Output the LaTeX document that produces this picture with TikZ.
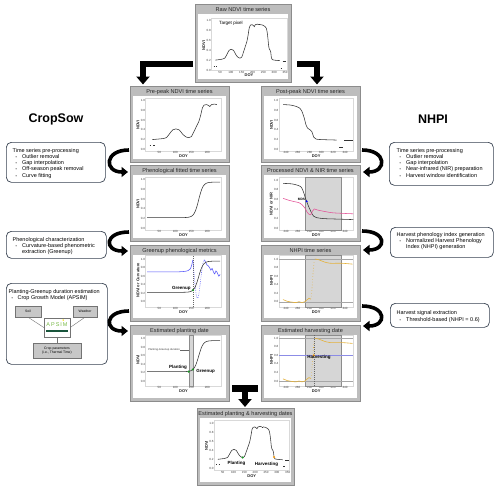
\documentclass[tikz,border=0pt]{standalone}
\usepackage{fontspec}
\setmainfont{Liberation Sans}
\usetikzlibrary{arrows.meta,calc}
\definecolor{pfill}{gray}{0.74}
\definecolor{pdraw}{gray}{0.55}
\definecolor{boxline}{RGB}{55,65,80}
\definecolor{curvblue}{RGB}{85,85,250}
\definecolor{nirpink}{RGB}{228,80,150}
\definecolor{nhpigold}{RGB}{228,178,60}
\definecolor{greendot}{RGB}{30,150,40}
\definecolor{orangedot}{RGB}{250,160,20}
\definecolor{apsimgreen}{RGB}{120,185,70}
\definecolor{apsimdark}{RGB}{25,85,60}
\definecolor{hblue}{RGB}{140,140,230}
\tikzset{
 panel/.style={draw=pdraw, fill=pfill, line width=0.8pt, inner sep=0, anchor=north west},
 pwhite/.style={fill=white, inner sep=0, anchor=north west},
 ptitle/.style={font=\fontsize{5.6}{6}\selectfont, text=black!85, inner sep=0},
 ticklab/.style={font=\fontsize{3}{3.4}\selectfont, text=black!75, inner sep=0.4pt},
 alab/.style={font=\bfseries\fontsize{4}{4.4}\selectfont, text=black!85, inner sep=0.6pt},
 plab/.style={font=\bfseries\fontsize{4.5}{5}\selectfont, inner sep=0.5pt},
 pframe/.style={draw=black!15, line width=0.25pt},
 hline/.style={draw=black!35, line width=0.4pt},
 ndvi/.style={draw=black!80, line width=0.55pt},
 curv/.style={draw=curvblue, line width=0.55pt},
 nir/.style={draw=nirpink, line width=0.55pt},
 nhpi/.style={draw=nhpigold, line width=0.6pt},
 regionfill/.style={fill=black!16, draw=black!45, line width=0.35pt},
 dotm/.style={circle, inner sep=0, minimum size=2.4pt},
 txtbox/.style={draw=boxline, line width=0.7pt, rounded corners=5pt, fill=white, inner sep=0, anchor=north west},
 boxtext/.style={font=\fontsize{5.5}{6.2}\selectfont, inner sep=0, anchor=north west},
 sbox/.style={draw=black!55, fill=black!22, line width=0.4pt, inner sep=0, font=\fontsize{3.4}{4.2}\selectfont, align=center},
 sline/.style={draw=black!55, line width=0.4pt},
 carrow/.style={line width=3.6pt, -{Triangle[width=10pt,length=6.5pt]}},
 earrow/.style={line width=5.5pt, -{Triangle[width=13pt,length=8pt]}},
 sidetitle/.style={font=\bfseries\fontsize{12.5}{14}\selectfont},
 dat/.style n args={4}{shift={(#1pt,-#3pt)}, x=#2pt, y=#4pt},
}
\newcommand\bul{{\fontsize{3.6}{4}\selectfont\textbullet}}
\newcommand\DPanel[6]{%
 \node[panel, minimum width=#4pt, minimum height=#5pt] (#1) at (#2,#3) {};
 \node[pwhite, minimum width=#4pt-6pt, minimum height=#5pt-13pt] (#1w) at (#2+3,#3+10) {};
 \node[ptitle] (#1t) at (#2+#4/2,#3+5.6) {#6};
}
\newcommand\Axes[7]{%
 \draw[pframe] (#2,#4) rectangle (#3,#5);
 \foreach \v [count=\i] in {0.0,0.2,0.4,0.6,0.8,1.0}
   {\node[ticklab,anchor=east] (#1y\i) at (#2,\v) {\v};}
 \foreach \d [count=\i] in {#6}
   {\node[ticklab,anchor=north] (#1x\i) at (\d,#4) {\d};}
 \node[alab,anchor=north,yshift=-2.9pt] (#1xl) at ({(#2+#3)/2},#4) {DOY};
 \node[alab,rotate=90,anchor=south] (#1yl) at ($(#1y1.west)!0.5!(#1y6.west)$) {#7};
}
\newcommand\PreCurve{%
 \draw[ndvi] plot[smooth,tension=0.45] coordinates {(28,0.2) (45,0.21) (60,0.22) (72,0.24) (82,0.32) (92,0.4) (102,0.42) (112,0.4) (122,0.32) (132,0.26) (142,0.24) (150,0.26) (158,0.36) (166,0.47) (174,0.58) (180,0.72) (185,0.86) (190,0.91) (198,0.92) (204,0.9) (208,0.88) (213,0.92) (222,0.93) (230,0.92)};
 \draw[ndvi] (20,0.08) -- (25,0.08) (31,0.08) -- (37,0.08);
}
\newcommand\PostCurve{%
 \draw[ndvi] plot[smooth,tension=0.45] coordinates {(235,0.92) (248,0.91) (258,0.88) (263,0.85) (267,0.78) (271,0.64) (274,0.5) (277,0.43) (281,0.4) (284,0.36) (287,0.25) (291,0.21) (300,0.2) (326,0.19)};
 \draw[ndvi] (330,0.04) -- (336,0.04);
 \draw[ndvi] (339,0.18) -- (354,0.18);
}
\newcommand\RawCurve{\PreCurve\PostCurve\draw[ndvi] (230,0.92) -- (235,0.92);}
\newcommand\FitCurve{\draw[ndvi] plot[domain=12:240,samples=90,smooth] (\x,{0.22+0.73/(1+exp(max(-9,min(9,(173-\x)/7))))});}
\newcommand\NhpiCurve{%
 \draw[nhpi] plot[smooth,tension=0.4] coordinates {(235,0.05) (242,0.01) (250,-0.01) (257,-0.02) (262,0.0) (267,-0.02) (272,0.0) (276,0.05) (279,0.08) (282,0.06)};
 \draw[nhpi, dash pattern=on 0.6pt off 2.2pt] (282,0.06) -- (283,0.12) -- (284,0.3) -- (285,0.5) -- (286,0.7) -- (287,0.85) -- (288,0.97);
 \draw[nhpi] plot[smooth,tension=0.4] coordinates {(289,1.0) (296,0.98) (305,0.93) (315,0.9) (335,0.9) (353,0.88)};
}
\begin{document}
\begin{tikzpicture}[x=1pt,y=-1pt]
\useasboundingbox (0,0) rectangle (500,490);

% ---------- top raw panel ----------
\DPanel{raw}{195}{4}{96}{78}{Raw NDVI time series}
\begin{scope}[dat={209.2}{0.2167}{70}{49.3}]
 \Axes{raw}{10}{358}{-0.01}{1.05}{50,100,150,200,250,300,350}{NDVI}
 \RawCurve
\end{scope}
\node[font=\fontsize{4.6}{5}\selectfont, anchor=west, inner sep=0] (tpix) at (219,23) {Target pixel};

% ---------- left column ----------
\DPanel{pre}{130}{86}{99}{76}{Pre-peak NDVI time series}
\begin{scope}[dat={143.3}{0.32}{149.3}{48.6}]
 \Axes{pre}{7}{244}{-0.03}{1.05}{50,100,150,200}{NDVI}
 \PreCurve
\end{scope}

\DPanel{fit}{130}{165}{99}{76}{Phenological fitted time series}
\begin{scope}[dat={143.3}{0.32}{228.3}{48.6}]
 \Axes{fit}{7}{244}{-0.03}{1.05}{50,100,150,200}{NDVI}
 \FitCurve
\end{scope}

\DPanel{grn}{130}{245}{99}{76}{Greenup phenological metrics}
\begin{scope}[dat={143.3}{0.32}{301.7}{42.7}]
 \Axes{grn}{7}{244}{-0.12}{1.08}{50,100,150,200}{NDVI or Curvature}
 \draw[black!60, line width=0.4pt, dash pattern=on 1pt off 1pt] (155,-0.12) -- (155,1.08);
 \draw[curv] plot[smooth,tension=0.4] coordinates {(12,0.7) (60,0.7) (110,0.7) (130,0.71) (140,0.73) (147,0.77) (151,0.85) (155,0.98)};
 \draw[curv, dash pattern=on 0.6pt off 1.2pt] plot[smooth,tension=0.4] coordinates {(155,0.98) (158,0.72) (162,0.38) (166,0.14) (170,0.08) (174,0.2) (179,0.5) (184,0.8) (188,0.95) (191,0.98)};
 \draw[curv] plot[smooth,tension=0.4] coordinates {(191,0.98) (195,0.92) (199,0.86) (203,0.84) (207,0.8) (211,0.74) (215,0.78) (219,0.7) (223,0.65) (227,0.72) (231,0.68) (236,0.6) (240,0.64)};
 \FitCurve
 \node[dotm, fill=greendot] (grnd) at (155,0.27) {};
 \node[plab, anchor=east] (grnl) at (150,0.32) {Greenup};
\end{scope}

\DPanel{pla}{130}{325}{99}{76}{Estimated planting date}
\begin{scope}[dat={143.3}{0.32}{381}{42.5}]
 \Axes{pla}{7}{244}{-0.12}{1.08}{50,100,150,200}{NDVI}
 \path[regionfill] (142,-0.12) rectangle (155,1.08);
 \node[font=\fontsize{2.7}{3}\selectfont, anchor=west, inner sep=0.3pt, text=black!75] (pgd) at (14,0.73) {Planting-Greenup duration};
 \draw[black!60, line width=0.3pt] (pgd.east) -- (142,0.73);
 \FitCurve
 \node[dotm, fill=greendot] (plad1) at (142,0.22) {};
 \node[dotm, fill=greendot] (plad2) at (155,0.27) {};
 \node[plab, anchor=east] (plal) at (138,0.31) {Planting};
 \node[plab, anchor=west] (plag) at (164,0.23) {Greenup};
\end{scope}

% ---------- right column ----------
\DPanel{post}{261}{86}{99}{76}{Post-peak NDVI time series}
\begin{scope}[dat={144.4}{0.59}{149.3}{48.6}]
 \Axes{post}{228}{354}{-0.03}{1.05}{240,260,280,300,320,340}{NDVI}
 \PostCurve
\end{scope}

\DPanel{proc}{261}{165}{99}{76}{Processed NDVI \& NIR time series}
\begin{scope}[dat={144.4}{0.59}{228.3}{48.3}]
 \Axes{proc}{228}{354}{-0.03}{1.05}{240,260,280,300,320,340}{NDVI or NIR}
 \path[regionfill] (273,-0.03) rectangle (334,1.05);
 \draw[ndvi] plot[smooth,tension=0.45] coordinates {(235,0.93) (250,0.92) (260,0.89) (266,0.85) (270,0.74) (273,0.62) (275,0.56) (278,0.46) (281,0.38) (284,0.3) (287,0.25) (292,0.22) (305,0.2) (330,0.19) (354,0.18)};
 \draw[nir] plot[smooth,tension=0.45] coordinates {(235,0.62) (245,0.58) (255,0.55) (262,0.53) (268,0.48) (272,0.42) (276,0.33) (279,0.29) (282,0.28) (285,0.36) (288,0.4) (293,0.38) (305,0.35) (320,0.32) (354,0.3)};
 \node[dotm, fill=blue, minimum size=2.2pt] (mdsd) at (275,0.56) {};
 \node[font=\bfseries\fontsize{3.3}{4}\selectfont, anchor=east, inner sep=0.4pt] (mdsl) at (273.5,0.6) {MDS};
\end{scope}

\DPanel{nh}{261}{245}{99}{76}{NHPI time series}
\begin{scope}[dat={144.4}{0.59}{301.7}{42.7}]
 \Axes{nh}{228}{354}{-0.12}{1.08}{240,260,280,300,320,340}{NHPI}
 \path[regionfill] (273,-0.12) rectangle (334,1.08);
 \draw[hline] (228,1) -- (354,1) (228,0) -- (354,0);
 \NhpiCurve
\end{scope}

\DPanel{har}{261}{325}{99}{76}{Estimated harvesting date}
\begin{scope}[dat={144.4}{0.59}{381}{42.7}]
 \Axes{har}{228}{354}{-0.12}{1.08}{240,260,280,300,320,340}{NHPI}
 \path[regionfill] (273,-0.12) rectangle (334,1.08);
 \draw[hline] (228,1) -- (354,1) (228,0) -- (354,0);
 \draw[draw=hblue, line width=0.4pt] (228,0.6) -- (354,0.6);
 \draw[black!60, line width=0.4pt, dash pattern=on 1pt off 1pt] (287,-0.12) -- (287,1.08);
 \NhpiCurve
 \node[dotm, fill=orangedot] (hard) at (287,0.6) {};
 \node[plab] (harl) at (296,0.545) {Harvesting};
\end{scope}

% ---------- bottom panel ----------
\DPanel{fin}{197}{408}{97}{77}{Estimated planting \& harvesting dates}
\begin{scope}[dat={211.9}{0.2167}{468.3}{45}]
 \Axes{fin}{10}{358}{-0.05}{1.07}{50,100,150,200,250,300,350}{NDVI}
 \RawCurve
 \node[dotm, fill=greendot] (find1) at (142,0.24) {};
 \node[dotm, fill=orangedot] (find2) at (287,0.25) {};
 \node[plab] (finl1) at (114,0.11) {Planting};
 \node[plab] (finl2) at (252,0.08) {Harvesting};
\end{scope}

% ---------- side titles ----------
\node[sidetitle] (lcap) at (56,119) {CropSow};
\node[sidetitle] (rcap) at (433,119) {NHPI};

% ---------- text boxes ----------
\node[txtbox, minimum width=99pt, minimum height=40pt] (bl1) at (6,142) {};
\node[boxtext] (bl1t) at (12.5,147.7) {\begin{tabular}{@{}l@{\hspace{5.2pt}}l@{}}\multicolumn{2}{@{}l@{}}{Time series pre-processing}\\ \hspace*{3pt}\bul & Outlier removal\\ \hspace*{3pt}\bul & Gap interpolation\\ \hspace*{3pt}\bul & Off-season peak removal\\ \hspace*{3pt}\bul & Curve fitting\end{tabular}};

\node[txtbox, minimum width=100pt, minimum height=27pt] (bl2) at (6,231) {};
\node[boxtext] (bl2t) at (12.5,236.5) {\begin{tabular}{@{}l@{\hspace{5.2pt}}l@{}}\multicolumn{2}{@{}l@{}}{Phenological characterization}\\ \hspace*{3pt}\bul & Curvature-based phenometric\\ & extraction (Greenup)\end{tabular}};

\node[txtbox, minimum width=101pt, minimum height=81pt] (bl3) at (6,283) {};
\node[boxtext] (bl3t) at (8.5,289.2) {\begin{tabular}{@{}l@{\hspace{4.6pt}}l@{}}\multicolumn{2}{@{}l@{}}{Planting-Greenup duration estimation}\\ \hspace*{3pt}\bul & Crop Growth Model (APSIM)\end{tabular}};

\node[txtbox, minimum width=104pt, minimum height=43pt] (br1) at (389,142) {};
\node[boxtext] (br1t) at (396.5,147.7) {\begin{tabular}{@{}l@{\hspace{5.2pt}}l@{}}\multicolumn{2}{@{}l@{}}{Time series pre-processing}\\ \hspace*{3pt}\bul & Outlier removal\\ \hspace*{3pt}\bul & Gap interpolation\\ \hspace*{3pt}\bul & Near-infrared (NIR) preparation\\ \hspace*{3pt}\bul & Harvest window identification\end{tabular}};

\node[txtbox, minimum width=103pt, minimum height=30pt] (br2) at (390,227) {};
\node[boxtext] (br2t) at (396.5,231.7) {\begin{tabular}{@{}l@{\hspace{5.2pt}}l@{}}\multicolumn{2}{@{}l@{}}{Harvest phenology index generation}\\ \hspace*{3pt}\bul & Normalized Harvest Phenology\\ & Index (NHPI) generation\end{tabular}};

\node[txtbox, minimum width=99pt, minimum height=24pt] (br3) at (390,303) {};
\node[boxtext] (br3t) at (396.5,309.7) {\begin{tabular}{@{}l@{\hspace{5.2pt}}l@{}}\multicolumn{2}{@{}l@{}}{Harvest signal extraction}\\[0.8pt] \hspace*{3pt}\bul & Threshold-based (NHPI = 0.6)\end{tabular}};

% ---------- APSIM sketch ----------
\node[sbox, minimum width=26pt, minimum height=11pt] (soil) at (28,311.5) {Soil};
\node[sbox, minimum width=24pt, minimum height=11pt] (wea) at (85,311.5) {Weather};
\node[draw=black!55, fill=white, line width=0.4pt, minimum width=26pt, minimum height=19pt, inner sep=0] (apsim) at (57,327.5) {};
\node[font=\fontsize{5.5}{6}\selectfont, text=apsimgreen, inner sep=0] (apsimt) at (57,324.5) {A\kern1pt P\kern1pt S\kern1pt I\kern1pt M};
\node[circle, fill=yellow!85!orange, minimum size=1.6pt, inner sep=0] (apsimsun) at (63.2,320) {};
\node[fill=apsimdark, minimum width=22pt, minimum height=1.8pt, inner sep=0] (apsimbar) at (57,331) {};
\node[sbox, minimum width=48pt, minimum height=15pt] (crop) at (57,350.5) {Crop parameters\\(i.e., Thermal Time)};
\draw[sline] (soil.south) -- (apsim.west);
\draw[sline] (wea.south) -- (apsim.east);
\draw[sline] (apsim.south) -- (crop.north);

% ---------- elbow arrows ----------
\coordinate (eL0) at (193,64);
\coordinate (eL1) at (143,84.5);
\coordinate (eR0) at (297,64);
\coordinate (eR1) at (317,84.5);
\draw[earrow] (eL0) -| (eL1);
\draw[earrow] (eR0) -| (eR1);

% ---------- curved arrows ----------
\coordinate (cl1a) at (129,150); \coordinate (cl1b) at (128,172);
\coordinate (cl2a) at (129,232); \coordinate (cl2b) at (128,251);
\coordinate (cl3a) at (129,311); \coordinate (cl3b) at (128,331);
\draw[carrow] (cl1a) .. controls (104,150) and (104,172) .. (cl1b);
\draw[carrow] (cl2a) .. controls (104,232) and (104,251) .. (cl2b);
\draw[carrow] (cl3a) .. controls (104,311) and (104,331) .. (cl3b);
\coordinate (cr1a) at (362,150); \coordinate (cr1b) at (363,172);
\coordinate (cr2a) at (362,231); \coordinate (cr2b) at (363,250);
\coordinate (cr3a) at (362,306); \coordinate (cr3b) at (363,326);
\draw[carrow] (cr1a) .. controls (387,150) and (387,172) .. (cr1b);
\draw[carrow] (cr2a) .. controls (387,231) and (387,250) .. (cr2b);
\draw[carrow] (cr3a) .. controls (387,306) and (387,326) .. (cr3b);

% ---------- merge arrow ----------
\coordinate (tL) at (232,388.5);
\coordinate (tR) at (258,388.5);
\coordinate (tM) at (245,388.5);
\coordinate (tE) at (245,407);
\draw[line width=6.5pt] (tL) -- (tR);
\draw[earrow] (tM) -- (tE);
\end{tikzpicture}
\end{document}
